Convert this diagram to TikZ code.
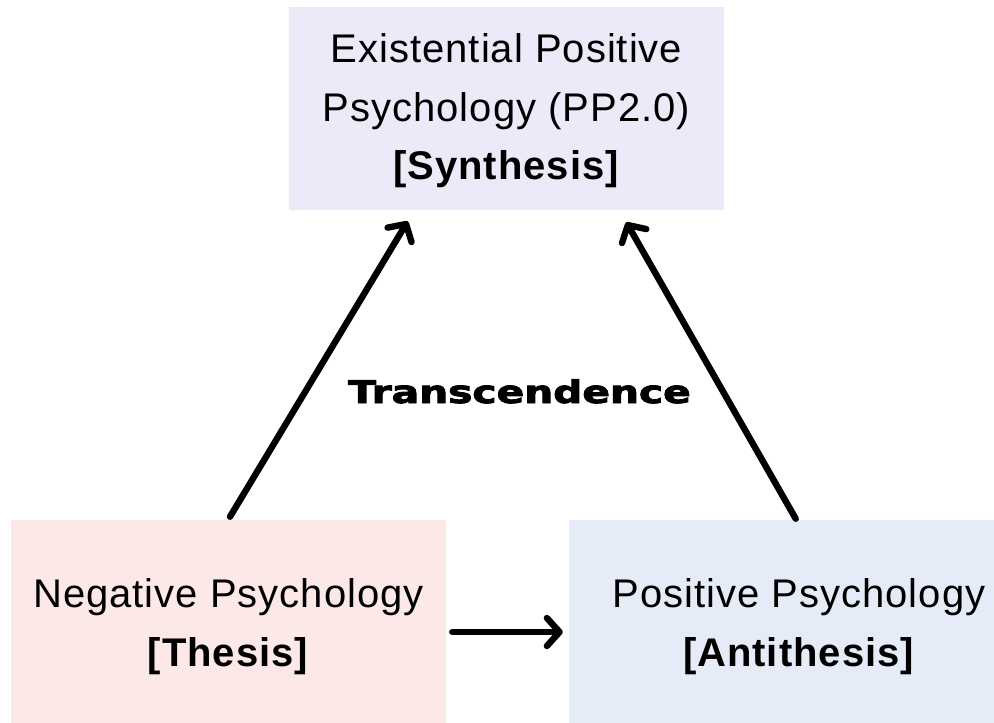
\documentclass[tikz,border=0pt]{standalone}
\usepackage{fontspec}
\usepackage{graphicx}
\setmainfont{Liberation Sans}
\newfontfamily\labelfont[LetterSpace=2.5]{Liberation Sans}
\newfontfamily\heavyfont[FakeBold=2.5]{DejaVu Sans}
\usetikzlibrary{arrows.meta,calc}
\definecolor{synthfill}{HTML}{EDE9F8}
\definecolor{thesisfill}{HTML}{FDE8E8}
\definecolor{antifill}{HTML}{E6ECF7}
\begin{document}
\begin{tikzpicture}[x=0.75pt,y=-0.75pt,
  panel/.style={rectangle, inner sep=0pt, minimum width=435*0.75pt,
    minimum height=203*0.75pt, align=center, text depth=0pt,
    text height=66.75pt, font=\labelfont\fontsize{30}{44}\selectfont},
  arr/.style={line width=4.8pt, line cap=round,
    -{Straight Barb[length=9.5pt,width=21pt,line cap=round,line join=round]}}]
\useasboundingbox (0,0) rectangle (994,723);

% the three stages of the dialectic
\node[panel, fill=synthfill, text height=107.25pt] (synth) at (506.5,108.5)
  {Existential Positive\\Psychology (PP2.0)\\\textbf{[Synthesis]}};
\node[panel, fill=thesisfill] (thesis) at (228.5,621.5)
  {Negative Psychology\\\textbf{[Thesis]}};
\node[panel, fill=antifill, minimum width=460*0.75pt] (anti) at (799,621.5)
  {Positive Psychology\\\textbf{[Antithesis]}};

% central caption
\node[font=\heavyfont\bfseries\fontsize{23.5}{28}\selectfont, anchor=base,
  inner sep=0pt] (trans) at (519.5,403) {\scalebox{1.3}[1]{Transcendence}};

% connectors
\draw[arr] ($(thesis.north)+(1.5,-3)$) -- ($(synth.south west)+(119,11)$);
\draw[arr] ($(anti.north west)+(227,-1)$) -- ($(synth.south east)+(-98,12)$);
\draw[arr] ($(thesis.east)+(6,10.5)$) -- ($(anti.west)+(-6,10.5)$);
\end{tikzpicture}
\end{document}
